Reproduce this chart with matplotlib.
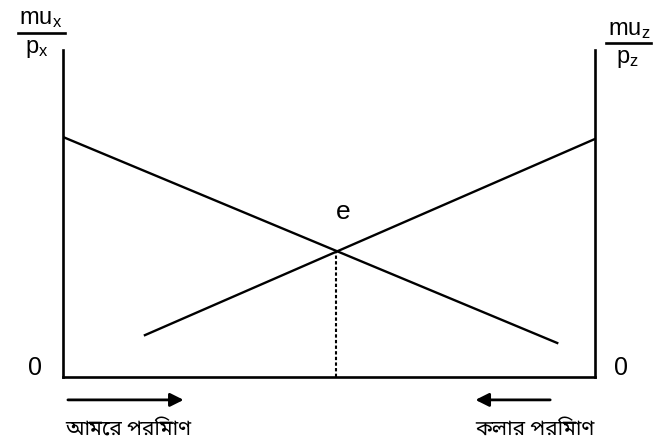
import matplotlib
matplotlib.use("Agg")
import matplotlib.pyplot as plt
from matplotlib import font_manager as fm

# ---- data (diagram units: x 0..10 between the two vertical axes, y 0..10) ----
mu_x_line_x = [0.0, 9.29]      # falling MUx/Px curve
mu_x_line_y = [7.34, 1.04]
mu_z_line_x = [1.54, 10.0]     # rising MUz/Pz curve
mu_z_line_y = [1.28, 7.28]
eq_x = 5.13                    # equilibrium e
eq_y = 3.85
left_label = "আমের পরিমাণ"
right_label = "কলার পরিমাণ"

bengali_candidates = ["Noto Sans Bengali", "Noto Serif Bengali", "Lohit Bengali",
                      "Mukti", "Vrinda", "Hind Siliguri", "FreeSans"]
installed = {f.name for f in fm.fontManager.ttflist}
beng = [f for f in bengali_candidates if f in installed]
fam_beng = beng + ["DejaVu Sans"]

plt.rcParams['font.family'] = ['Liberation Sans', 'DejaVu Sans']
plt.rcParams['mathtext.fontset'] = 'custom'
plt.rcParams['mathtext.rm'] = 'Liberation Sans'
plt.rcParams['mathtext.it'] = 'Liberation Sans'

fig = plt.figure(figsize=(6.54, 4.47), dpi=100)
ax = fig.add_axes([63/654, 70/447, 532/654, 327/447])
ax.set_xlim(0, 10)
ax.set_ylim(0, 10)
for s in ['left', 'right', 'bottom']:
    ax.spines[s].set_linewidth(1.9)
    ax.spines[s].set_color('black')
ax.spines['top'].set_visible(False)
ax.set_xticks([])
ax.set_yticks([])

ax.plot(mu_x_line_x, mu_x_line_y, color='black', lw=1.7)
ax.plot(mu_z_line_x, mu_z_line_y, color='black', lw=1.7)
ax.plot([eq_x, eq_x], [0, eq_y], color='black', lw=1.5, ls=(0, (1.6, 1.1)))
ax.text(eq_x + 0.13, eq_y + 1.2, "e", fontsize=19, ha='center', va='center')

# zeros
ax.text(-0.53, 0.28, "0", fontsize=18, ha='center', va='center', clip_on=False)
ax.text(10.49, 0.28, "0", fontsize=18, ha='center', va='center', clip_on=False)

# left axis label (fraction)
ax.text(-0.42, 10.95, r"$\mathrm{mu_x}$", fontsize=17, ha='center', va='center', clip_on=False)
ax.plot([-0.85, 0.04], [10.52, 10.52], color='black', lw=1.9, clip_on=False)
ax.text(-0.5, 10.03, r"$\mathrm{p_x}$", fontsize=17, ha='center', va='center', clip_on=False)

# right axis label (fraction)
ax.text(10.65, 10.62, r"$\mathrm{mu_z}$", fontsize=17, ha='center', va='center', clip_on=False)
ax.plot([10.2, 11.05], [10.22, 10.22], color='black', lw=1.9, clip_on=False)
ax.text(10.6, 9.72, r"$\mathrm{p_z}$", fontsize=17, ha='center', va='center', clip_on=False)

# arrows
ax.annotate("", xy=(2.32, -0.70), xytext=(0.04, -0.70), xycoords='data',
            arrowprops=dict(arrowstyle='-|>', color='black', lw=2.0, mutation_scale=20),
            annotation_clip=False)
ax.annotate("", xy=(7.70, -0.70), xytext=(9.21, -0.70), xycoords='data',
            arrowprops=dict(arrowstyle='-|>', color='black', lw=2.0, mutation_scale=20),
            annotation_clip=False)

ax.text(1.22, -1.6, left_label, fontsize=15, ha='center', va='center',
        family=fam_beng, clip_on=False)
ax.text(8.87, -1.6, right_label, fontsize=15, ha='center', va='center',
        family=fam_beng, clip_on=False)

fig.savefig("out.png", dpi=100)
